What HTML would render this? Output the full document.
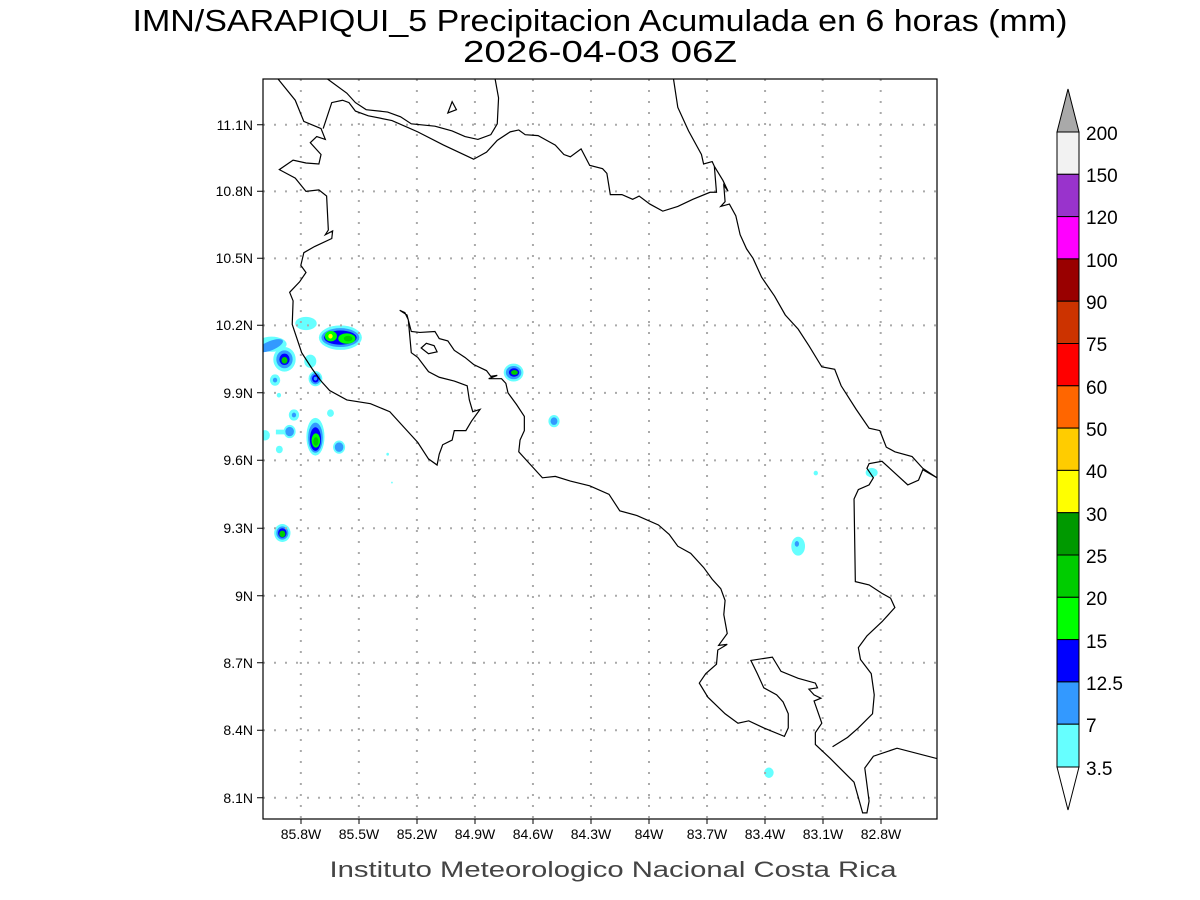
<!DOCTYPE html>
<html><head><meta charset="utf-8"><style>html,body{margin:0;padding:0;background:#fff}svg{display:block}</style></head>
<body>
<svg width="1200" height="900" viewBox="0 0 1200 900" xmlns="http://www.w3.org/2000/svg" font-family="Liberation Sans, sans-serif">
<rect width="1200" height="900" fill="#fff"/>
<text x="600" y="31" font-size="31" text-anchor="middle" textLength="935" lengthAdjust="spacingAndGlyphs" fill="#000">IMN/SARAPIQUI_5 Precipitacion Acumulada en 6 horas (mm)</text>
<text x="600" y="62" font-size="31" text-anchor="middle" textLength="274" lengthAdjust="spacingAndGlyphs" fill="#000">2026-04-03 06Z</text>

<svg x="263" y="79" width="674" height="740" viewBox="0 0 1568 1568" preserveAspectRatio="none">
<g>
<!-- rain -->
<ellipse cx="100" cy="518" rx="25" ry="14" fill="#66ffff"/>
<ellipse cx="180" cy="548" rx="50" ry="26" fill="#66ffff"/>
<ellipse cx="180" cy="548" rx="44" ry="20" fill="#3399ff"/>
<ellipse cx="180" cy="548" rx="38" ry="15" fill="#0000ff"/>
<ellipse cx="158" cy="545" rx="14" ry="11" fill="#00ff00"/>
<ellipse cx="195" cy="550" rx="20" ry="11" fill="#00ff00"/>
<ellipse cx="198" cy="550" rx="10" ry="6" fill="#00cc00"/>
<circle cx="157" cy="545" r="5" fill="#ffff00"/>
<ellipse cx="20" cy="562" rx="35" ry="16" fill="#66ffff"/>
<ellipse cx="18" cy="565" rx="30" ry="10" fill="#3399ff" transform="rotate(-20 18 565)"/>
<circle cx="50" cy="594" r="26" fill="#66ffff"/>
<circle cx="50" cy="594" r="19" fill="#3399ff"/>
<circle cx="50" cy="594" r="12" fill="#0000ff"/>
<circle cx="50" cy="596" r="7" fill="#00cc00"/>
<circle cx="110" cy="598" r="14" fill="#66ffff"/>
<circle cx="122" cy="635" r="16" fill="#66ffff"/>
<circle cx="122" cy="635" r="12" fill="#3399ff"/>
<circle cx="122" cy="635" r="8" fill="#0000ff"/>
<circle cx="122" cy="635" r="4" fill="#3399ff"/>
<circle cx="28" cy="638" r="12" fill="#66ffff"/>
<circle cx="28" cy="638" r="5" fill="#3399ff"/>
<circle cx="37" cy="670" r="5" fill="#66ffff"/>
<circle cx="72" cy="712" r="12" fill="#66ffff"/>
<circle cx="72" cy="712" r="5" fill="#3399ff"/>
<circle cx="157" cy="708" r="8" fill="#66ffff"/>
<ellipse cx="122" cy="758" rx="21" ry="40" fill="#66ffff"/>
<ellipse cx="122" cy="760" rx="17" ry="32" fill="#3399ff"/>
<ellipse cx="122" cy="763" rx="13" ry="25" fill="#0000ff"/>
<ellipse cx="123" cy="766" rx="10" ry="15" fill="#00ff00"/>
<ellipse cx="123" cy="768" rx="6" ry="9" fill="#00cc00"/>
<rect x="30" y="743" width="30" height="10" fill="#66ffff"/>
<circle cx="62" cy="747" r="14" fill="#66ffff"/>
<circle cx="62" cy="747" r="10" fill="#3399ff"/>
<circle cx="5" cy="755" r="11" fill="#66ffff"/>
<circle cx="177" cy="780" r="14" fill="#66ffff"/>
<circle cx="177" cy="780" r="10" fill="#3399ff"/>
<circle cx="38" cy="785" r="8" fill="#66ffff"/>
<circle cx="290" cy="795" r="3" fill="#66ffff"/>
<circle cx="300" cy="855" r="2" fill="#66ffff"/>
<ellipse cx="583" cy="622" rx="23" ry="19" fill="#66ffff"/>
<ellipse cx="583" cy="622" rx="18" ry="14" fill="#3399ff"/>
<ellipse cx="584" cy="622" rx="12" ry="9" fill="#0000ff"/>
<ellipse cx="585" cy="622" rx="8" ry="5" fill="#00cc00"/>
<circle cx="677" cy="725" r="13" fill="#66ffff"/>
<circle cx="677" cy="725" r="8" fill="#3399ff"/>
<circle cx="1286" cy="835" r="5" fill="#66ffff"/>
<ellipse cx="1416" cy="834" rx="14" ry="10" fill="#66ffff"/>
<ellipse cx="1245" cy="990" rx="16" ry="20" fill="#66ffff"/>
<ellipse cx="1242" cy="985" rx="5" ry="6" fill="#3399ff"/>
<circle cx="1177" cy="1470" r="11" fill="#66ffff"/>
<circle cx="45" cy="962" r="19" fill="#66ffff"/>
<circle cx="45" cy="962" r="14" fill="#3399ff"/>
<circle cx="45" cy="962" r="10" fill="#0000ff"/>
<circle cx="45" cy="964" r="7" fill="#00cc00"/>
</g>
<!-- grid -->
<g stroke="#aaa" stroke-width="2" stroke-dasharray="2 9" vector-effect="non-scaling-stroke">
<path vector-effect="non-scaling-stroke" d="M88 0V1568M223 0V1568M358 0V1568M493 0V1568M628 0V1568M763 0V1568M898 0V1568M1033 0V1568M1168 0V1568M1302 0V1568M1437 0V1568"/>
<path vector-effect="non-scaling-stroke" d="M0 97H1568M0 238H1568M0 380H1568M0 522H1568M0 665H1568M0 808H1568M0 952H1568M0 1095H1568M0 1237H1568M0 1380H1568M0 1523H1568"/>
</g>
<!-- coast -->
<g fill="none" stroke="#000" stroke-width="1.2">
<path vector-effect="non-scaling-stroke" d="M35 0L75 45L95 90L135 105L145 128L125 122L110 135L135 160L130 180L100 178L70 172L38 192L75 210L100 238L130 235L148 248L152 320L145 330L162 322L160 338L120 355L95 368L88 395L100 410L85 430L62 452L70 470L68 520L90 580L115 615L135 640L155 660L195 680L250 688L295 705L330 740L360 770L385 805L405 818L410 795L418 775L440 765L445 745L472 745L485 725L505 700L488 705L480 680L475 650L445 640L410 632L385 620L360 590L345 580L338 510L330 495L318 490L335 500L345 535L365 537L400 535L410 550L430 555L445 575L470 590L490 605L520 618L530 630L545 628L525 635L555 635L565 645L570 665L590 690L608 715L608 745L598 765L595 790L620 815L650 845L680 842L715 852L760 862L805 880L830 915L870 925L920 945L945 965L965 990L995 1005L1025 1035L1045 1060L1065 1080L1075 1105L1072 1135L1080 1175L1060 1200L1080 1198L1058 1210L1055 1240L1030 1260L1015 1280L1035 1310L1075 1345L1105 1365L1130 1360L1165 1375L1213 1393L1222 1375L1222 1345L1210 1320L1195 1305L1165 1290L1150 1260L1135 1232L1185 1225L1205 1255L1245 1270L1285 1280L1290 1290L1270 1293L1282 1305L1298 1312L1282 1318L1300 1365L1285 1385L1285 1410L1320 1440L1375 1490L1395 1555L1405 1555L1410 1530L1400 1460L1420 1435L1475 1418L1568 1440"/>
<path vector-effect="non-scaling-stroke" d="M1325 1415L1360 1395L1385 1375L1418 1345L1422 1305L1415 1260L1390 1230L1385 1205L1405 1180L1440 1150L1470 1120L1460 1100L1440 1090L1410 1072L1378 1065L1375 890L1385 870L1410 860L1420 845L1405 825L1410 815L1440 810L1470 835L1500 860L1525 850L1535 828L1568 845"/>
<path vector-effect="non-scaling-stroke" d="M955 0L965 60L990 110L1020 160L1025 180L1045 175L1050 185L1055 240L1040 240L1000 255L965 270L930 280L900 265L875 248L860 255L835 245L808 245L800 200L790 190L760 183L740 148L715 165L700 160L680 140L660 130L640 120L610 118L595 108L575 112L545 130L520 155L490 170L420 140L360 112L300 88L245 78L215 68L200 50L185 45L160 50L140 105"/>
<path vector-effect="non-scaling-stroke" d="M1050 185L1070 215L1082 238L1072 225L1075 260L1065 270L1085 265L1100 290L1110 330L1125 360L1140 380L1160 420L1190 460L1215 500L1245 530L1270 565L1300 610L1330 615L1345 650L1380 700L1410 740L1435 745L1450 780L1470 790L1510 800L1535 825L1568 845"/>
<path vector-effect="non-scaling-stroke" d="M540 0L548 40L545 95L530 118L500 128L470 122L440 110L400 100L345 95L320 80L290 70L240 65L215 50L195 30L150 0"/>
<path vector-effect="non-scaling-stroke" d="M430 72L440 48L450 65Z"/>
<path vector-effect="non-scaling-stroke" d="M368 570L380 560L398 565L405 578L385 582Z"/>
</g>
</svg>
<rect x="263" y="79" width="674" height="740" fill="none" stroke="#000" stroke-width="1.2"/>
<!-- ticks -->
<g stroke="#000" stroke-width="1">
<path d="M301 819v5M359 819v5M417 819v5M475 819v5M533 819v5M591 819v5M649 819v5M707 819v5M765 819v5M823 819v5M881 819v5"/>
<path d="M257 124.8h6M257 191.3h6M257 258.3h6M257 325.3h6M257 392.8h6M257 460.3h6M257 528.3h6M257 595.8h6M257 662.8h6M257 730.3h6M257 797.7h6"/>
</g>
<g font-size="14" text-anchor="middle" fill="#000">
<text x="301" y="839">85.8W</text><text x="359" y="839">85.5W</text><text x="417" y="839">85.2W</text><text x="475" y="839">84.9W</text><text x="533" y="839">84.6W</text><text x="591" y="839">84.3W</text><text x="649" y="839">84W</text><text x="707" y="839">83.7W</text><text x="765" y="839">83.4W</text><text x="823" y="839">83.1W</text><text x="881" y="839">82.8W</text>
</g>
<g font-size="14" text-anchor="end" fill="#000">
<text x="253" y="130">11.1N</text><text x="253" y="196">10.8N</text><text x="253" y="263">10.5N</text><text x="253" y="330">10.2N</text><text x="253" y="398">9.9N</text><text x="253" y="465">9.6N</text><text x="253" y="533">9.3N</text><text x="253" y="601">9N</text><text x="253" y="668">8.7N</text><text x="253" y="735">8.4N</text><text x="253" y="803">8.1N</text>
</g>
<text x="613" y="877" font-size="22" text-anchor="middle" textLength="567" lengthAdjust="spacingAndGlyphs" fill="#444">Instituto Meteorologico Nacional Costa Rica</text>
<!-- colorbar -->
<g stroke="#000" stroke-width="1">
<path d="M1057 132L1068 89L1079 132Z" fill="#a9a9a9"/>
<path d="M1057 767L1068 810L1079 767Z" fill="#fff"/>
<rect x="1057" y="132" width="22" height="42.3" fill="#f2f2f2"/>
<rect x="1057" y="174.3" width="22" height="42.3" fill="#9933cc"/>
<rect x="1057" y="216.6" width="22" height="42.3" fill="#ff00ff"/>
<rect x="1057" y="258.9" width="22" height="42.3" fill="#990000"/>
<rect x="1057" y="301.2" width="22" height="42.3" fill="#cc3300"/>
<rect x="1057" y="343.5" width="22" height="42.3" fill="#ff0000"/>
<rect x="1057" y="385.8" width="22" height="42.3" fill="#ff6600"/>
<rect x="1057" y="428.1" width="22" height="42.3" fill="#ffcc00"/>
<rect x="1057" y="470.4" width="22" height="42.3" fill="#ffff00"/>
<rect x="1057" y="512.7" width="22" height="42.3" fill="#009900"/>
<rect x="1057" y="555" width="22" height="42.3" fill="#00cc00"/>
<rect x="1057" y="597.3" width="22" height="42.3" fill="#00ff00"/>
<rect x="1057" y="639.6" width="22" height="42.3" fill="#0000ff"/>
<rect x="1057" y="681.9" width="22" height="42.3" fill="#3399ff"/>
<rect x="1057" y="724.2" width="22" height="42.8" fill="#66ffff"/>
</g>
<g font-size="19" fill="#000">
<text x="1086" y="140">200</text><text x="1086" y="182">150</text><text x="1086" y="224">120</text><text x="1086" y="267">100</text><text x="1086" y="309">90</text><text x="1086" y="351">75</text><text x="1086" y="394">60</text><text x="1086" y="436">50</text><text x="1086" y="478">40</text><text x="1086" y="521">30</text><text x="1086" y="563">25</text><text x="1086" y="605">20</text><text x="1086" y="648">15</text><text x="1086" y="690">12.5</text><text x="1086" y="732">7</text><text x="1086" y="775">3.5</text>
</g>
</svg>
</body></html>
